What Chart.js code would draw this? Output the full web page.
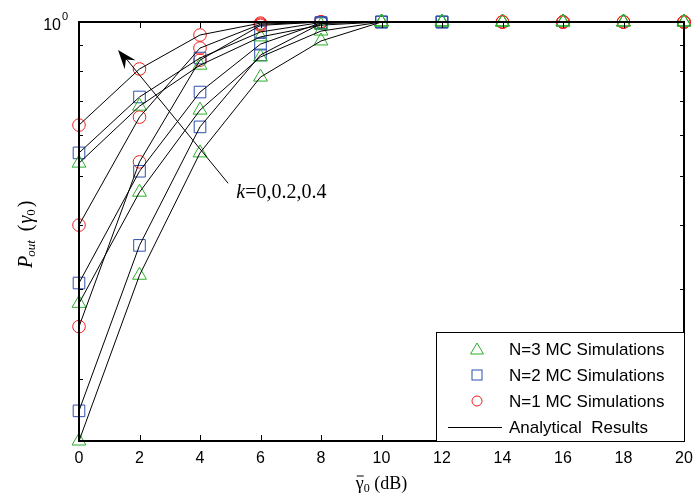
<!DOCTYPE html>
<html>
<head>
<meta charset="utf-8">
<script src="https://cdn.jsdelivr.net/npm/chart.js@4/dist/chart.umd.min.js"></script>
<style>
    html, body { margin: 0; padding: 0; background: #fff; }
</style>
</head>
<body>
<canvas id="myChart" width="695" height="498"></canvas>
<script>
// average SNR (dB)
const snr = [0, 2, 4, 6, 8, 10, 12, 14, 16, 18, 20];

// analytical outage probability, k = 0, 0.2, 0.4
const anaN1k0 = [0.253, 0.532, 0.842, 0.985, 1, 1, 1, 1, 1, 1, 1];
const anaN1k2 = [0.400, 0.651, 0.889, 0.990, 1, 1, 1, 1, 1, 1, 1];
const anaN1k4 = [0.628, 0.809, 0.943, 0.995, 1, 1, 1, 1, 1, 1, 1];
const anaN2k0 = [0.173, 0.365, 0.623, 0.862, 0.993, 1, 1, 1, 1, 1, 1];
const anaN2k2 = [0.308, 0.510, 0.729, 0.905, 0.996, 1, 1, 1, 1, 1, 1];
const anaN2k4 = [0.554, 0.713, 0.850, 0.956, 0.998, 1, 1, 1, 1, 1, 1];
const anaN3k0 = [0.151, 0.319, 0.554, 0.780, 0.918, 1, 1, 1, 1, 1, 1];
const anaN3k2 = [0.281, 0.464, 0.672, 0.854, 0.960, 1, 1, 1, 1, 1, 1];
const anaN3k4 = [0.529, 0.684, 0.823, 0.935, 0.986, 1, 1, 1, 1, 1, 1];

// Monte Carlo points (null = not plotted)
const simN1k0 = [0.253, 0.532, 0.842, 0.985, 1, null, null, 1, 1, 1, 1];
const simN1k2 = [0.400, 0.651, 0.889, 0.990, 1, null, null, 1, 1, 1, 1];
const simN1k4 = [0.628, 0.809, 0.943, 0.995, 1, null, null, 1, 1, 1, 1];
const simN2k0 = [0.173, 0.365, 0.623, 0.862, 0.993, 1, 1, null, null, null, null];
const simN2k2 = [0.308, 0.510, 0.729, 0.905, 0.996, 1, 1, null, null, null, null];
const simN2k4 = [0.554, 0.713, 0.850, 0.956, 0.998, 1, 1, null, null, null, null];
const simN3k0 = [0.151, 0.319, 0.554, 0.780, 0.918, 1, 1, 1, 1, 1, 1];
const simN3k2 = [0.281, 0.464, 0.672, 0.854, 0.960, 1, 1, 1, 1, 1, 1];
const simN3k4 = [0.529, 0.684, 0.823, 0.935, 0.986, 1, 1, 1, 1, 1, 1];

const xTicks = [0, 2, 4, 6, 8, 10, 12, 14, 16, 18, 20];
const yTicks = [0.2, 0.3, 0.4, 0.5, 0.6, 0.7, 0.8, 0.9, 1];
const yMin = 0.151;

const legendLabels = ['N=3 MC Simulations', 'N=2 MC Simulations', 'N=1 MC Simulations', 'Analytical  Results'];
const annotText = 'k=0,0.2,0.4';

const green = 'rgb(45,175,45)';
const blue = 'rgb(45,80,175)';
const red = 'rgb(240,30,30)';

function pts(arr) {
    let out = [];
    arr.forEach((v, i) => {
        if (v !== null) out.push({ x: snr[i], y: v });
    });
    return out;
}

function lineSet(arr) {
    return {
        data: pts(arr),
        borderColor: '#000',
        borderWidth: 1,
        pointRadius: 0,
        fill: false,
        tension: 0,
        clip: false
    };
}

function simSet(list, color, style, r) {
    let d = [];
    list.forEach(a => { d = d.concat(pts(a)); });
    return {
        data: d,
        showLine: false,
        pointStyle: style,
        pointRadius: r,
        pointBorderWidth: 1,
        pointBorderColor: color,
        pointBackgroundColor: 'rgba(0,0,0,0)',
        clip: false
    };
}

function line(ctx, x1, y1, x2, y2) {
    ctx.beginPath();
    ctx.moveTo(x1, y1);
    ctx.lineTo(x2, y2);
    ctx.stroke();
}

const decor = {
    id: 'decor',
    afterDraw(chart) {
        const ctx = chart.ctx;
        const a = chart.chartArea;
        const x = chart.scales.x;
        const y = chart.scales.y;
        ctx.save();

        // inward tick marks
        ctx.strokeStyle = '#000';
        ctx.lineWidth = 1;
        xTicks.forEach(v => {
            const px = Math.round(x.getPixelForValue(v)) + 0.5;
            line(ctx, px, a.bottom, px, a.bottom - 6);
            line(ctx, px, a.top, px, a.top + 6);
        });
        yTicks.forEach(v => {
            const py = Math.round(y.getPixelForValue(v)) + 0.5;
            line(ctx, a.left, py, a.left + 4, py);
            line(ctx, a.right, py, a.right - 4, py);
        });

        // frame
        ctx.lineWidth = 2;
        ctx.strokeRect(a.left, a.top, a.right - a.left, a.bottom - a.top);

        // y tick label 10^0
        ctx.fillStyle = '#000';
        ctx.textBaseline = 'alphabetic';
        ctx.textAlign = 'right';
        const yTop = y.getPixelForValue(1);
        ctx.font = '16px "Liberation Sans", Arial, sans-serif';
        ctx.fillText('10', a.left - 18, yTop + 8);
        ctx.font = '11px "Liberation Sans", Arial, sans-serif';
        ctx.textAlign = 'left';
        ctx.fillText('0', a.left - 17, yTop - 2);

        // arrow for k
        const tx = x.getPixelForValue(4.93), ty = y.getPixelForValue(0.483);
        const hx = x.getPixelForValue(1.29), hy = y.getPixelForValue(0.881);
        ctx.lineWidth = 1;
        line(ctx, tx, ty, hx + 6, hy + 6);
        const ang = Math.atan2(hy - ty, hx - tx);
        const L = 19, W = 7;
        const bx = hx - L * Math.cos(ang), by = hy - L * Math.sin(ang);
        const nx = hx - 0.65 * L * Math.cos(ang), ny = hy - 0.65 * L * Math.sin(ang);
        ctx.beginPath();
        ctx.moveTo(hx, hy);
        ctx.lineTo(bx + W * Math.sin(ang), by - W * Math.cos(ang));
        ctx.lineTo(nx, ny);
        ctx.lineTo(bx - W * Math.sin(ang), by + W * Math.cos(ang));
        ctx.closePath();
        ctx.fill();

        // annotation text
        let ax = x.getPixelForValue(5.2), ay = y.getPixelForValue(0.452);
        ctx.font = 'italic 20px "Liberation Serif", serif';
        ctx.fillText('k', ax, ay);
        ax += ctx.measureText('k').width;
        ctx.font = '20px "Liberation Serif", serif';
        ctx.fillText(annotText.slice(1), ax, ay);

        // x title
        const cx = (a.left + a.right) / 2;
        ctx.font = '18px "Liberation Serif", serif';
        const w1 = ctx.measureText('γ').width;
        ctx.font = '12px "Liberation Serif", serif';
        const w2 = ctx.measureText('0').width;
        ctx.font = '18px "Liberation Serif", serif';
        const w3 = ctx.measureText(' (dB)').width;
        let sx = cx - (w1 + w2 + w3) / 2;
        const base = 489;
        ctx.fillText('γ', sx, base);
        line(ctx, sx + 1, base - 13, sx + w1, base - 13);
        sx += w1;
        ctx.font = '12px "Liberation Serif", serif';
        ctx.fillText('0', sx, base + 3);
        sx += w2;
        ctx.font = '18px "Liberation Serif", serif';
        ctx.fillText(' (dB)', sx, base);

        // y title (rotated)
        ctx.save();
        ctx.translate(32, 268);
        ctx.rotate(-Math.PI / 2);
        let p = 0;
        ctx.font = 'italic 20px "Liberation Serif", serif';
        ctx.fillText('P', p, 0);
        p += ctx.measureText('P').width - 1;
        ctx.font = 'italic 13px "Liberation Serif", serif';
        ctx.fillText('out', p, 3);
        p += ctx.measureText('out').width + 9;
        ctx.font = '20px "Liberation Serif", serif';
        ctx.fillText('(', p, 0);
        p += ctx.measureText('(').width + 1;
        ctx.font = 'italic 20px "Liberation Serif", serif';
        ctx.fillText('γ', p, 0);
        p += ctx.measureText('γ').width;
        ctx.font = '13px "Liberation Serif", serif';
        ctx.fillText('0', p, 3);
        p += ctx.measureText('0').width + 2;
        ctx.font = '20px "Liberation Serif", serif';
        ctx.fillText(')', p, 0);
        ctx.restore();

        // legend
        const lw = 248, lh = 109;
        const lx = a.right - lw, ly = a.bottom - lh;
        ctx.fillStyle = '#fff';
        ctx.fillRect(lx, ly, lw, lh);
        ctx.strokeStyle = '#000';
        ctx.lineWidth = 1;
        ctx.strokeRect(lx + 0.5, ly + 0.5, lw, lh);
        ctx.font = '17px "Liberation Sans", Arial, sans-serif';
        ctx.textBaseline = 'middle';
        const mx = lx + 41;
        legendLabels.forEach((t, i) => {
            const ry = ly + 17 + i * 26;
            ctx.fillStyle = '#000';
            ctx.fillText(t, lx + 73, ry + 1);
            ctx.lineWidth = 1;
            if (i === 0) {
                ctx.strokeStyle = green;
                ctx.beginPath();
                ctx.moveTo(mx, ry - 6);
                ctx.lineTo(mx + 6.5, ry + 5);
                ctx.lineTo(mx - 6.5, ry + 5);
                ctx.closePath();
                ctx.stroke();
            } else if (i === 1) {
                ctx.strokeStyle = blue;
                ctx.strokeRect(mx - 5, ry - 5, 10, 10);
            } else if (i === 2) {
                ctx.strokeStyle = red;
                ctx.beginPath();
                ctx.arc(mx, ry, 5, 0, Math.PI * 2);
                ctx.stroke();
            } else {
                ctx.strokeStyle = '#000';
                line(ctx, lx + 12, ry + 0.5, lx + 66, ry + 0.5);
            }
        });

        ctx.restore();
    }
};

const data = {
    datasets: [
        lineSet(anaN1k0), lineSet(anaN1k2), lineSet(anaN1k4),
        lineSet(anaN2k0), lineSet(anaN2k2), lineSet(anaN2k4),
        lineSet(anaN3k0), lineSet(anaN3k2), lineSet(anaN3k4),
        simSet([simN3k0, simN3k2, simN3k4], green, 'triangle', 8),
        simSet([simN2k0, simN2k2, simN2k4], blue, 'rect', 8.2),
        simSet([simN1k0, simN1k2, simN1k4], red, 'circle', 6.3)
    ]
};

let config = {
    type: 'line',
    data: data,
    options: {
        responsive: false,
        animation: false,
        devicePixelRatio: 1,
        layout: { padding: { top: 22, right: 11, left: 0, bottom: 0 } },
        plugins: { legend: { display: false }, tooltip: { enabled: false } },
        scales: {
            x: {
                type: 'linear',
                min: 0,
                max: 20,
                afterBuildTicks: s => { s.ticks = xTicks.map(v => ({ value: v })); },
                ticks: {
                    color: '#000',
                    padding: 8,
                    maxRotation: 0,
                    font: { family: '"Liberation Sans", Arial, sans-serif', size: 16 }
                },
                grid: { display: false, drawTicks: false },
                border: { display: false },
                afterFit: s => { s.height = 57; s.paddingLeft = 0; s.paddingRight = 0; }
            },
            y: {
                type: 'logarithmic',
                min: yMin,
                max: 1,
                afterBuildTicks: s => { s.ticks = yTicks.map(v => ({ value: v })); },
                ticks: { display: false },
                grid: { display: false, drawTicks: false },
                border: { display: false },
                afterFit: s => { s.width = 79; s.paddingTop = 0; s.paddingBottom = 0; }
            }
        }
    },
    plugins: [decor]
};

let myChart = new Chart(document.getElementById('myChart'), config);
</script>
</body>
</html>
